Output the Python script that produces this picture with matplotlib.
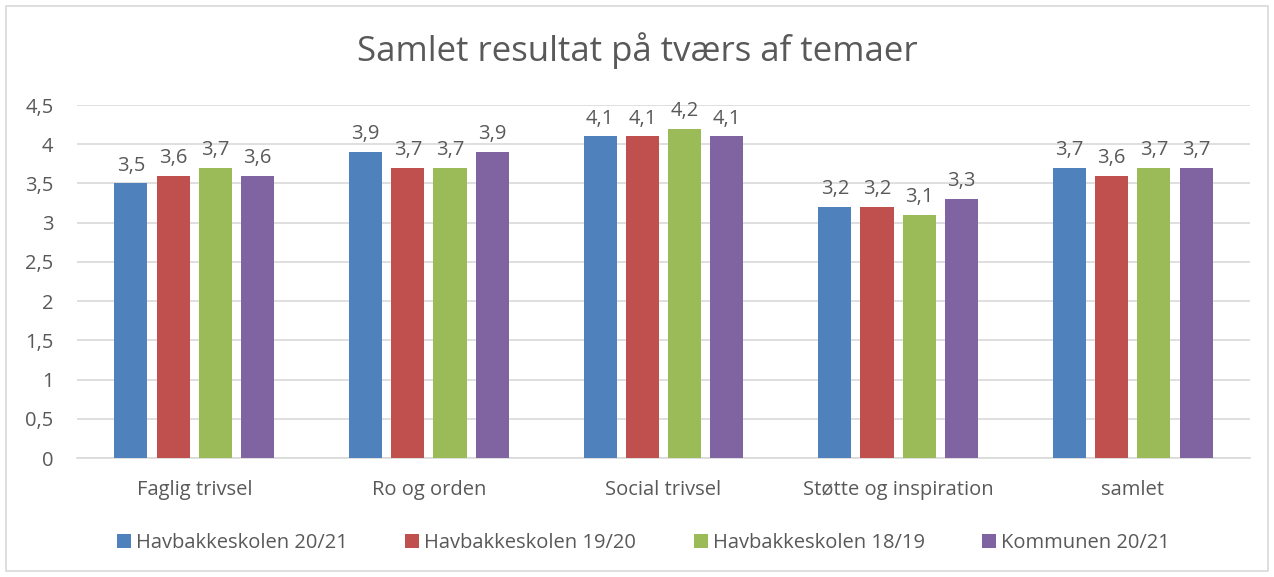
import matplotlib
matplotlib.use("Agg")
import matplotlib.pyplot as plt
from matplotlib.patches import Rectangle
import numpy as np

categories = ["Faglig trivsel", "Ro og orden", "Social trivsel", "Støtte og inspiration", "samlet"]
series_names = ["Havbakkeskolen 20/21", "Havbakkeskolen 19/20", "Havbakkeskolen 18/19", "Kommunen 20/21"]
s2021 = [3.5, 3.9, 4.1, 3.2, 3.7]
s1920 = [3.6, 3.7, 4.1, 3.2, 3.6]
s1819 = [3.7, 3.7, 4.2, 3.1, 3.7]
komm = [3.6, 3.9, 4.1, 3.3, 3.7]
yticks = [0, 0.5, 1, 1.5, 2, 2.5, 3, 3.5, 4, 4.5]
ytick_labels = ["0", "0,5", "1", "1,5", "2", "2,5", "3", "3,5", "4", "4,5"]
colors = ["#4F81BD", "#C0504D", "#9BBB59", "#8064A2"]

plt.rcParams['font.family'] = ['Open Sans', 'DejaVu Sans']
txt = "#595959"
fs = 14.5

fig = plt.figure(figsize=(12.74, 5.77), dpi=100)
fig.patches.append(Rectangle((6/1274, 6/577), 1262/1274, 565/577, transform=fig.transFigure,
                             fill=False, edgecolor="#D9D9D9", linewidth=1.2))
ax = fig.add_axes([77/1274, 1-458/577, (1250-77)/1274, (458-105)/577])

x = np.arange(len(categories))
width = 0.141
step = 0.18
all_series = [s2021, s1920, s1819, komm]
for i, (vals, name, c) in enumerate(zip(all_series, series_names, colors)):
    pos = x + (i - 1.5) * step
    ax.bar(pos, vals, width, color=c, label=name, zorder=3)
    for p, v in zip(pos, vals):
        ax.text(p, v + 0.1, f"{v:.1f}".replace(".", ","), ha="center", va="bottom",
                fontsize=fs, color=txt)

ax.set_xlim(-0.5, len(categories) - 0.5)
ax.set_ylim(0, 4.5)
ax.set_yticks(yticks)
ax.set_yticklabels(ytick_labels, fontsize=fs, color=txt)
ax.set_xticks(x)
ax.set_xticklabels(categories, fontsize=fs, color=txt)
ax.tick_params(axis="both", length=0)
ax.tick_params(axis="y", pad=17)
ax.tick_params(axis="x", pad=16)
ax.grid(axis="y", color="#D9D9D9", linewidth=1.2, zorder=0)
for s in ["top", "right", "left"]:
    ax.spines[s].set_visible(False)
ax.spines["bottom"].set_color("#D9D9D9")
ax.spines["bottom"].set_linewidth(1.2)

fig.text(0.5, 1-51/577, "Samlet resultat på tværs af temaer", ha="center", va="center",
         fontsize=25, color=txt)

fig.legend(loc="center", bbox_to_anchor=(0.505, 1-543/577), ncol=4, frameon=False,
           fontsize=fs, labelcolor=txt, handlelength=0.7, handleheight=0.7,
           handletextpad=0.25, columnspacing=2.85)

fig.savefig("out.png", dpi=100)
